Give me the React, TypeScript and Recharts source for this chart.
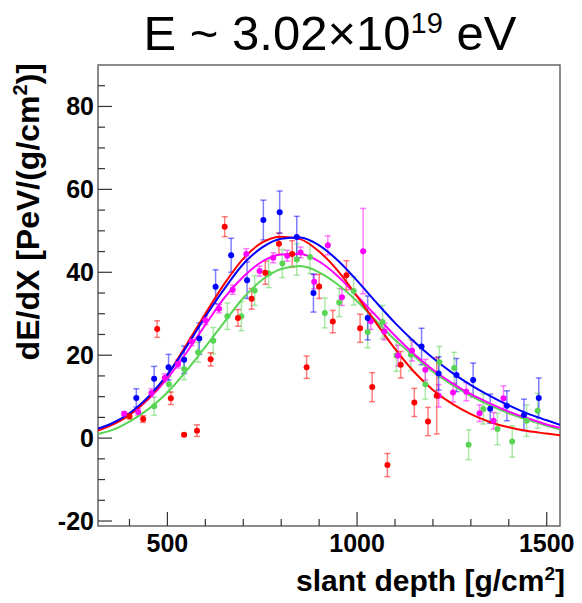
import { ComposedChart, ErrorBar, Line, ReferenceArea, Scatter, XAxis, YAxis } from "recharts";

// fitted profiles at fixed slant depths
const fitDepth = [317, 350, 400, 450, 500, 550, 600, 650, 700, 750, 800, 850, 900, 950, 1000, 1050, 1100, 1150, 1200, 1250, 1300, 1350, 1400, 1450, 1500, 1535];
const redFit = [1.8, 3.0, 5.6, 9.6, 15.2, 22.5, 30.0, 37.2, 43.3, 47.2, 48.6, 48.0, 45.0, 40.3, 34.2, 27.8, 21.5, 16.0, 11.6, 8.3, 5.8, 3.9, 2.6, 1.7, 1.1, 0.7];
const blueFit = [2.3, 3.4, 6.0, 10.0, 15.3, 22.0, 29.3, 36.0, 42.0, 46.0, 48.1, 48.4, 46.5, 42.8, 38.0, 32.8, 27.8, 23.3, 19.3, 15.8, 12.8, 10.2, 7.9, 5.9, 4.3, 3.2];
const magentaFit = [2.2, 3.2, 5.6, 9.4, 14.4, 20.6, 27.3, 33.8, 38.9, 42.6, 44.3, 44.4, 42.6, 39.0, 34.3, 29.5, 24.7, 20.3, 16.5, 13.3, 10.6, 8.4, 6.4, 4.8, 3.3, 2.5];
const greenFit = [1.0, 1.8, 4.0, 7.0, 11.0, 16.2, 22.0, 28.0, 33.8, 38.2, 40.8, 41.5, 40.0, 37.0, 33.0, 28.3, 23.7, 19.8, 16.0, 12.9, 10.2, 7.9, 6.0, 4.4, 3.0, 2.1];

// measured points
const redDepth = [400, 436, 473, 509, 544, 578, 614, 651, 686, 722, 758, 794, 829, 867, 900, 936, 972, 1008, 1040, 1080, 1115, 1151, 1187, 1210];
const redDeposit = [5.3, 4.6, 26.3, 9.6, 0.8, 1.8, 19.0, 51.0, 29.0, 33.6, 39.9, 46.9, 44.4, 17.1, 36.6, 28.1, 39.3, 26.5, 12.3, -6.5, 17.7, 8.6, 4.0, 10.2];
const redError = [0.7, 0.8, 2.0, 1.5, 0.3, 1.4, 1.6, 2.4, 2.0, 2.5, 2.8, 2.6, 3.2, 2.7, 2.9, 2.7, 3.5, 3.4, 3.5, 2.8, 3.2, 3.4, 3.4, 9.2];

const blueDepth = [418, 465, 503, 544, 584, 627, 668, 710, 753, 796, 841, 885, 1028, 1170, 1215, 1262, 1306, 1351, 1395, 1440, 1479];
const blueDeposit = [9.7, 14.3, 17.1, 18.9, 24.0, 36.5, 44.1, 38.1, 52.6, 54.5, 48.5, 35.0, 29.0, 22.1, 15.6, 15.2, 14.0, 7.1, 7.8, 5.6, 9.7];
const blueError = [2.2, 3.0, 3.1, 3.3, 3.8, 4.1, 4.1, 4.4, 4.8, 5.1, 5.0, 4.6, 5.3, 4.4, 4.0, 4.0, 4.1, 3.5, 3.6, 3.8, 4.8];

const magentaDepth = [386, 423, 458, 493, 528, 564, 600, 636, 672, 708, 743, 779, 816, 851, 887, 923, 960, 1016, 1036, 1072, 1108, 1145, 1180, 1215, 1253, 1288, 1323, 1360, 1386];
const magentaDeposit = [5.9, 6.3, 10.9, 14.5, 17.9, 23.3, 28.4, 31.2, 35.8, 44.4, 40.3, 43.5, 44.0, 44.8, 37.7, 46.5, 34.0, 45.1, 28.2, 25.7, 19.9, 21.1, 16.5, 10.2, 11.0, 11.2, 6.0, 4.2, 9.6];
const magentaError = [0.5, 0.8, 1.0, 1.0, 1.0, 1.0, 1.0, 1.0, 1.1, 1.3, 1.2, 1.2, 1.3, 1.3, 1.7, 2.3, 2.0, 10.3, 2.0, 2.0, 2.5, 2.5, 2.5, 2.7, 2.3, 2.2, 2.0, 2.0, 3.0];

const greenDepth = [465, 504, 544, 581, 621, 658, 695, 730, 767, 803, 841, 876, 915, 953, 991, 1028, 1067, 1104, 1142, 1180, 1217, 1256, 1294, 1333, 1370, 1409, 1447, 1476];
const greenDeposit = [7.7, 13.0, 16.7, 20.7, 23.5, 29.4, 29.4, 35.6, 39.7, 42.1, 43.1, 43.7, 30.2, 32.7, 35.5, 25.6, 28.0, 19.9, 20.1, 13.0, 18.3, 16.9, -1.6, 7.0, 2.2, -0.8, 4.2, 6.6];
const greenError = [2.2, 1.8, 2.6, 2.4, 3.2, 3.2, 3.5, 3.6, 3.4, 3.4, 3.8, 4.0, 3.6, 3.4, 3.4, 3.8, 4.0, 3.8, 3.8, 3.6, 3.8, 3.8, 3.6, 3.6, 3.8, 3.8, 3.8, 4.2];

const xTicks = [400, 500, 600, 700, 800, 900, 1000, 1100, 1200, 1300, 1400, 1500];
const yTicks = [-20, -15, -10, -5, 0, 5, 10, 15, 20, 25, 30, 35, 40, 45, 50, 55, 60, 65, 70, 75, 80, 85];
const xDomain = [317, 1535];
const yDomain = [-21.2, 90];

const RED = "#ff0000";
const BLUE = "#0000ff";
const MAGENTA = "#ff00ff";
const GREEN = "#59d454";

const FONT = "'Liberation Sans', Arial, Helvetica, sans-serif";
const PLOT_LEFT = 90;
const PLOT_BOTTOM = 518;

const fitRows = fitDepth.map((x, i) => ({
  x,
  red: redFit[i],
  blue: blueFit[i],
  magenta: magentaFit[i],
  green: greenFit[i],
}));

const toPoints = (xs: number[], ys: number[], errs: number[]) =>
  xs.map((x, i) => ({ x, y: ys[i], err: errs[i] }));

const YTick = (props: any) => {
  const { y, payload } = props;
  const v = payload.value as number;
  const major = v % 20 === 0;
  return (
    <g>
      <line x1={PLOT_LEFT} x2={PLOT_LEFT + (major ? 14 : 7)} y1={y} y2={y} stroke="#333" strokeWidth={1.2} />
      {major && (
        <text x={PLOT_LEFT - 4} y={y} dy="0.36em" textAnchor="end" fontSize={25} fontWeight="bold" fontFamily={FONT} fill="#000">
          {v}
        </text>
      )}
    </g>
  );
};

const XTick = (props: any) => {
  const { x, payload } = props;
  const v = payload.value as number;
  const major = v % 500 === 0;
  return (
    <g>
      <line x1={x} x2={x} y1={PLOT_BOTTOM} y2={PLOT_BOTTOM - (major ? 14 : 7)} stroke="#333" strokeWidth={1.2} />
      {major && (
        <text x={x} y={PLOT_BOTTOM + 26} textAnchor="middle" fontSize={25} fontWeight="bold" fontFamily={FONT} fill="#000">
          {v}
        </text>
      )}
    </g>
  );
};

const dot = (color: string) => (p: any) => <circle cx={p.cx} cy={p.cy} r={3} fill={color} />;

const series = [
  { name: "green", color: GREEN, pts: toPoints(greenDepth, greenDeposit, greenError) },
  { name: "magenta", color: MAGENTA, pts: toPoints(magentaDepth, magentaDeposit, magentaError) },
  { name: "red", color: RED, pts: toPoints(redDepth, redDeposit, redError) },
  { name: "blue", color: BLUE, pts: toPoints(blueDepth, blueDeposit, blueError) },
];

export default function App() {
  return (
    <div style={{ position: "relative", width: 574, height: 595, fontFamily: FONT }}>
      <div
        style={{
          position: "absolute",
          left: 72,
          top: 1,
          width: 500,
          textAlign: "center",
          fontSize: 49,
          lineHeight: "48px",
          whiteSpace: "nowrap",
        }}
      >
        E ~ 3.02×10<span style={{ fontSize: 29, position: "relative", top: -17 }}>19</span> eV
      </div>
      <ComposedChart width={574} height={595} data={fitRows} margin={{ top: 57, right: 22, bottom: 47, left: 30 }}>
        <XAxis
          type="number"
          dataKey="x"
          domain={xDomain}
          allowDataOverflow
          ticks={xTicks}
          interval={0}
          axisLine={false}
          tickLine={false}
          tick={XTick}
          height={30}
        />
        <YAxis
          type="number"
          domain={yDomain}
          allowDataOverflow
          ticks={yTicks}
          interval={0}
          axisLine={false}
          tickLine={false}
          tick={YTick}
          width={60}
        />
        <ReferenceArea
          x1={xDomain[0]}
          x2={xDomain[1]}
          y1={yDomain[0]}
          y2={yDomain[1]}
          fill="none"
          stroke="#666"
          strokeWidth={1.5}
          ifOverflow="visible"
        />
        {series.map((s) => (
          <Scatter key={s.name} data={s.pts} dataKey="y" fill={s.color} shape={dot(s.color)} isAnimationActive={false}>
            <ErrorBar dataKey="err" direction="y" width={3} stroke={s.color} strokeOpacity={0.5} strokeWidth={1.5} />
          </Scatter>
        ))}
        <Line type="monotone" dataKey="green" stroke={GREEN} strokeWidth={2} dot={false} isAnimationActive={false} />
        <Line type="monotone" dataKey="magenta" stroke={MAGENTA} strokeWidth={2} dot={false} isAnimationActive={false} />
        <Line type="monotone" dataKey="red" stroke={RED} strokeWidth={2} dot={false} isAnimationActive={false} />
        <Line type="monotone" dataKey="blue" stroke={BLUE} strokeWidth={2} dot={false} isAnimationActive={false} />
      </ComposedChart>
      <div
        style={{
          position: "absolute",
          left: -200,
          top: 256,
          width: 440,
          height: 38,
          lineHeight: "38px",
          transform: "rotate(-90deg)",
          textAlign: "right",
          fontSize: 32,
          fontWeight: "bold",
          whiteSpace: "nowrap",
        }}
      >
        dE/dX [PeV/(g/cm<span style={{ fontSize: 20, position: "relative", top: -12 }}>2</span>)]
      </div>
      <div
        style={{
          position: "absolute",
          right: 17,
          top: 558,
          fontSize: 30,
          lineHeight: "30px",
          fontWeight: "bold",
          whiteSpace: "nowrap",
        }}
      >
        slant depth [g/cm<span style={{ fontSize: 19, position: "relative", top: -11 }}>2</span>]
      </div>
    </div>
  );
}
